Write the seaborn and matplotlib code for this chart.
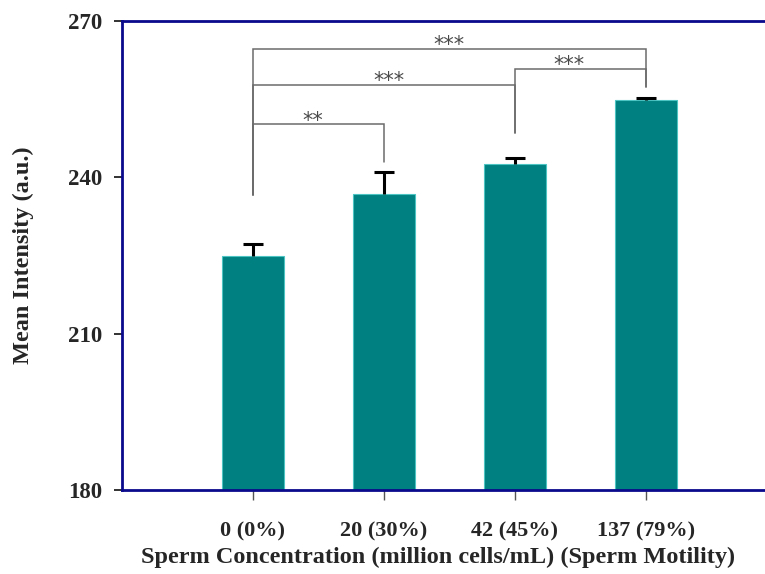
import pandas as pd
import numpy as np
import seaborn as sns
import matplotlib.pyplot as plt

# Data
groups = ["0 (0%)", "20 (30%)", "42 (45%)", "137 (79%)"]
mean_intensity = [224.9, 236.8, 242.5, 254.8]
sem_upper = [2.3, 4.1, 1.1, 0.3]

# significance brackets: (left group, right group, bar height,
#                         left leg end, right leg end, label, label x)
brackets = [
    (0, 1, 250.1, 236.6, 242.9, "**", 0.46),
    (0, 2, 257.6, 236.6, 248.5, "***", 1.04),
    (2, 3, 260.8, 248.5, 257.3, "***", 2.41),
    (0, 3, 264.5, 236.6, 257.3, "***", 1.50),
]

navy = "#0a0a8c"
teal = "#008080"
bracket_grey = "#6b6b6b"

sns.set_theme(style="white")
plt.rcParams["font.family"] = ["Liberation Serif", "DejaVu Serif"]

df = pd.DataFrame({"group": groups, "intensity": mean_intensity})

fig = plt.figure(figsize=(7.65, 5.74), dpi=100)
ax = fig.add_axes([0.1595, 0.1463, 0.856, 0.8176])

sns.barplot(data=df, x="group", y="intensity", color=teal, width=0.47,
            errorbar=None, saturation=1, edgecolor="#4cc4c4", linewidth=0.8,
            ax=ax, zorder=2)

# one-sided (upper) error bars
xpos = np.arange(len(groups))
_, caps, _ = ax.errorbar(xpos, mean_intensity,
                         yerr=[np.zeros(len(groups)), sem_upper],
                         fmt="none", ecolor="black", elinewidth=2.2,
                         capsize=7, capthick=2.2, zorder=3)
caps[0].set_visible(False)  # no cap at the bar top

# significance brackets
for i, j, h, yl, yr, lab, lx in brackets:
    ax.plot([i, i, j, j], [yl, h, h, yr], color=bracket_grey, lw=1.1,
            zorder=1, solid_joinstyle="miter")
    ax.text(lx, h - 0.4, lab, ha="center", va="baseline",
            fontsize=15, color="#4a4a4a", family=["DejaVu Sans"])

ax.set_xlim(-1, 4)
ax.set_ylim(180, 270)
ax.set_yticks([180, 210, 240, 270])

for side in ["left", "bottom", "top"]:
    ax.spines[side].set_color(navy)
    ax.spines[side].set_linewidth(2.0)
ax.spines["right"].set_visible(False)

ax.tick_params(axis="y", direction="out", length=6, width=1.3, color="#222222",
               pad=8, labelsize=16.5, left=True)
ax.tick_params(axis="x", direction="out", length=7, width=1.0, color="#555555",
               pad=16, labelsize=16, bottom=True)
for lbl in ax.get_xticklabels() + ax.get_yticklabels():
    lbl.set_fontweight("bold")

ax.set_xlabel("Sperm Concentration (million cells/mL) (Sperm Motility)",
              fontsize=17.5, fontweight="bold")
ax.set_ylabel("Mean Intensity (a.u.)", fontsize=17.5, fontweight="bold")
ax.xaxis.set_label_coords(0.483, -0.122)
ax.yaxis.set_label_coords(-0.135, 0.5)
ax.grid(False)

fig.savefig("out.png", dpi=100)
